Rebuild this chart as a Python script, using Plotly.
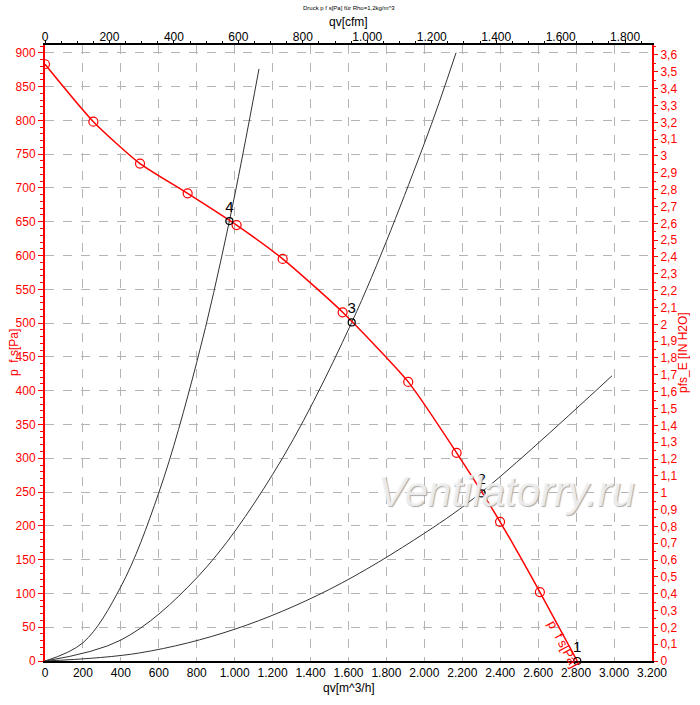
import plotly.graph_objects as go

# Fan curve (red), flow in m^3/h and static pressure in Pa
fan_q = [0, 255, 501, 752, 1010, 1253, 1569, 1915, 2170, 2399, 2609, 2806]
fan_p = [883, 798, 736, 692, 645, 595, 516, 413, 308, 206, 102, 0]

# System curves (black)
sys4_q = [0, 200, 400, 600, 800, 972, 1128]
sys4_p = [0, 27, 110, 249, 442, 651, 876]
sys3_q = [0, 400, 800, 1200, 1617, 2000, 2167]
sys3_p = [0, 31, 123, 276, 501, 766, 900]
sys2_q = [0, 500, 1000, 1500, 2000, 2302, 2989]
sys2_p = [0, 12, 47, 106, 189, 250, 422]

# Operating points
op_labels = ["1", "2", "3", "4"]
op_q = [2806, 2302, 1617, 972]
op_p = [0, 248, 501, 651]

Q_MAX = 3200
P_MAX = 911.5
M3H_PER_CFM = 1.699
PA_PER_INH2O = 249.09

FONT = "Arial, Liberation Sans, sans-serif"
RED = "#ff0000"
GRID = "#b4b4b4"

fig = go.Figure()

for q, p in [(sys4_q, sys4_p), (sys3_q, sys3_p), (sys2_q, sys2_p)]:
    fig.add_trace(go.Scatter(x=q, y=p, mode="lines", line=dict(color="#333333", width=1, shape="spline"),
                             hoverinfo="skip", showlegend=False))

fig.add_trace(go.Scatter(x=fan_q, y=fan_p, mode="lines",
                         line=dict(color=RED, width=1.5, shape="spline", smoothing=0.6),
                         showlegend=False))
fig.add_trace(go.Scatter(x=fan_q[:-1], y=fan_p[:-1], mode="markers",
                         marker=dict(symbol="circle-open", size=9, color=RED, line=dict(width=1.2, color=RED)),
                         showlegend=False))

fig.add_trace(go.Scatter(x=op_q, y=op_p, mode="markers+text", text=op_labels, textposition="top center",
                         textfont=dict(family=FONT, size=15, color="black"),
                         marker=dict(symbol="circle-open", size=7, color="black", line=dict(width=1.2, color="black")),
                         showlegend=False, cliponaxis=False))

# dummy traces to activate secondary axes
fig.add_trace(go.Scatter(x=[0], y=[0], xaxis="x2", yaxis="y", mode="markers", marker=dict(opacity=0),
                         showlegend=False, hoverinfo="skip"))
fig.add_trace(go.Scatter(x=[0], y=[0], xaxis="x", yaxis="y2", mode="markers", marker=dict(opacity=0),
                         showlegend=False, hoverinfo="skip"))

fig.update_layout(
    width=700, height=705,
    margin=dict(l=45, r=48, t=45, b=44, autoexpand=False),
    paper_bgcolor="white", plot_bgcolor="white",
    separators=",.",
    font=dict(family=FONT, size=12, color="black"),
    xaxis=dict(range=[0, Q_MAX], dtick=200, tick0=0, tickformat=",d", automargin=False,
               showgrid=True, gridcolor=GRID, griddash="dash", gridwidth=1,
               showline=True, linecolor="black", linewidth=2, ticks="",
               zeroline=False, tickfont=dict(size=12, color="black")),
    xaxis2=dict(range=[0, Q_MAX / M3H_PER_CFM], dtick=200, tick0=0, tickformat=",d", automargin=False,
                overlaying="x", side="top", showgrid=False, zeroline=False,
                showline=True, linecolor="black", linewidth=2,
                ticks="outside", ticklen=3, tickcolor="black", ticklabelstandoff=-6,
                minor=dict(dtick=50, ticks="outside", ticklen=2, tickcolor="black"),
                tickfont=dict(size=12, color="black")),
    yaxis=dict(range=[0, P_MAX], dtick=50, tick0=0, automargin=False,
               showgrid=True, gridcolor=GRID, griddash="dash", gridwidth=1,
               showline=True, linecolor=RED, linewidth=2, zeroline=False,
               ticks="outside", ticklen=5, tickcolor=RED,
               minor=dict(dtick=10, ticks="outside", ticklen=3, tickcolor=RED),
               tickfont=dict(size=12, color=RED)),
    yaxis2=dict(range=[0, P_MAX / PA_PER_INH2O], dtick=0.1, tick0=0, automargin=False,
                overlaying="y", side="right", showgrid=False, zeroline=False,
                showline=True, linecolor=RED, linewidth=2,
                ticks="outside", ticklen=4, tickcolor=RED,
                minor=dict(dtick=0.05, ticks="outside", ticklen=2, tickcolor=RED),
                tickfont=dict(size=12, color=RED)),
    annotations=[
        dict(text="Druck p f s[Pa] für Rho=1,2kg/m^3", xref="paper", yref="paper",
             x=0.5, y=1, yshift=37, showarrow=False, font=dict(size=6, color="black"),
             xanchor="center", yanchor="middle"),
        dict(text="qv[cfm]", xref="paper", yref="paper", x=0.5, y=1, yshift=23,
             showarrow=False, font=dict(size=12, color="black"), xanchor="center", yanchor="middle"),
        dict(text="qv[m^3/h]", xref="paper", yref="paper", x=0.5, y=0, yshift=-27,
             showarrow=False, font=dict(size=12, color="black"), xanchor="center", yanchor="middle"),
        dict(text="p  f s[Pa]", xref="paper", yref="paper", x=0, y=0.5, xshift=-31,
             showarrow=False, textangle=-90, font=dict(size=12, color=RED),
             xanchor="center", yanchor="middle"),
        dict(text="pfs_E [IN H2O]", xref="paper", yref="paper", x=1, y=0.5, xshift=31,
             showarrow=False, textangle=-90, font=dict(size=12, color=RED),
             xanchor="center", yanchor="middle"),
        dict(text="p  f s[Pa]", x=2735, y=25, xref="x", yref="y", showarrow=False,
             textangle=62, font=dict(size=13, color=RED)),
        dict(text="<i>Ventilatorry.ru</i>", xref="paper", yref="paper", x=0.76, y=0.275,
             xanchor="center", yanchor="middle",
             showarrow=False, font=dict(size=42, color="rgba(244,244,244,0.9)",
                                        shadow="1px 1px 1px #a0a0a0")),
    ],
)

fig.write_html("out.html", post_script="document.body.style.margin='0';",
               config={"displayModeBar": False})
